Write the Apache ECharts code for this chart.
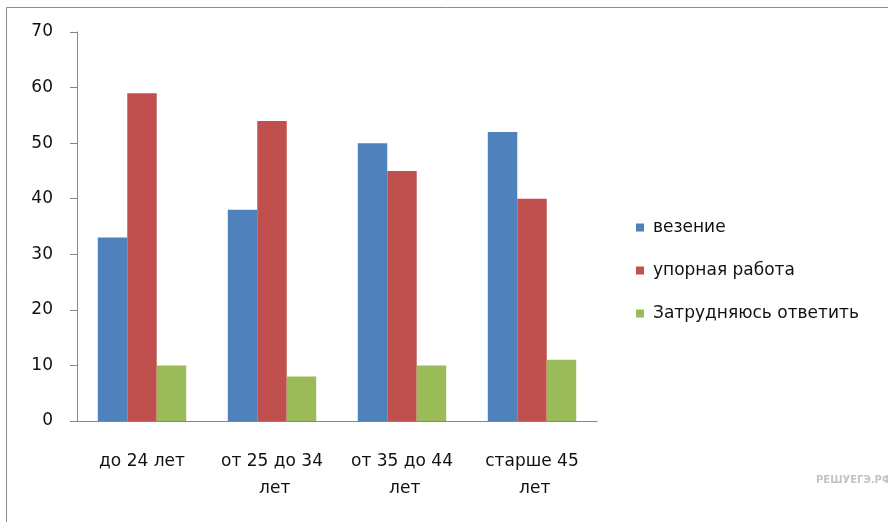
<!DOCTYPE html>
<html>
<head>
<meta charset="utf-8">
<script src="https://cdn.jsdelivr.net/npm/echarts@6/dist/echarts.min.js"></script>
<style>html,body{margin:0;padding:0;background:#fff}#c{width:888px;height:522px}</style>
</head>
<body>
<div id="c"></div>
<script>
var categories = ['до 24 лет', 'от 25 до 34 лет', 'от 35 до 44 лет', 'старше 45 лет'];
var seriesNames = ['везение', 'упорная работа', 'Затрудняюсь ответить'];
var luck = [33, 38, 50, 52];
var hardWork = [59, 54, 45, 40];
var undecided = [10, 8, 10, 11];
var yTicks = [0, 10, 20, 30, 40, 50, 60, 70];

var colors = ['#4F81BD', '#C0504D', '#9BBB59'];
var font = 'DejaVu Sans';
var chart = echarts.init(document.getElementById('c'));
chart.setOption({
  animation: false,
  color: colors,
  grid: { left: 77, top: 32, right: 291, bottom: 101, containLabel: false },
  graphic: [
    { type: 'rect', shape: { x: 6.5, y: 7.5, width: 900, height: 540 }, style: { fill: 'none', stroke: '#8c8c8c', lineWidth: 1 }, silent: true },
    { type: 'text', left: 816, top: 475, style: { text: 'РЕШУЕГЭ.РФ', font: 'bold 10px ' + font, fill: '#c4c4c4' }, silent: true }
  ],
  legend: {
    orient: 'vertical', left: 631, top: 213,
    itemWidth: 8, itemHeight: 8, itemGap: 24,
    icon: 'rect',
    textStyle: { fontFamily: font, fontSize: 17, color: '#111', padding: [0, 0, 0, 4], lineHeight: 19 },
    data: seriesNames
  },
  xAxis: {
    type: 'category', data: categories,
    axisLine: { lineStyle: { color: '#868686', width: 1 } },
    axisTick: { length: 7, lineStyle: { color: '#868686' } },
    axisLabel: { fontFamily: font, fontSize: 17, color: '#111', margin: 27, lineHeight: 27, width: 130, overflow: 'break', interval: 0 }
  },
  yAxis: {
    type: 'value', min: 0, max: 70, interval: 10,
    splitLine: { show: false },
    axisLine: { show: true, lineStyle: { color: '#868686', width: 1 } },
    axisTick: { show: true, length: 7, lineStyle: { color: '#868686' } },
    axisLabel: { fontFamily: font, fontSize: 17, color: '#111', margin: 24,
      formatter: function (v) { return yTicks.indexOf(v) >= 0 ? String(v) : ''; } }
  },
  series: [
    { name: seriesNames[0], type: 'bar', data: luck, barGap: '0%', barCategoryGap: '32%' },
    { name: seriesNames[1], type: 'bar', data: hardWork, barGap: '0%', barCategoryGap: '32%' },
    { name: seriesNames[2], type: 'bar', data: undecided, barGap: '0%', barCategoryGap: '32%' }
  ]
});
</script>
</body>
</html>
